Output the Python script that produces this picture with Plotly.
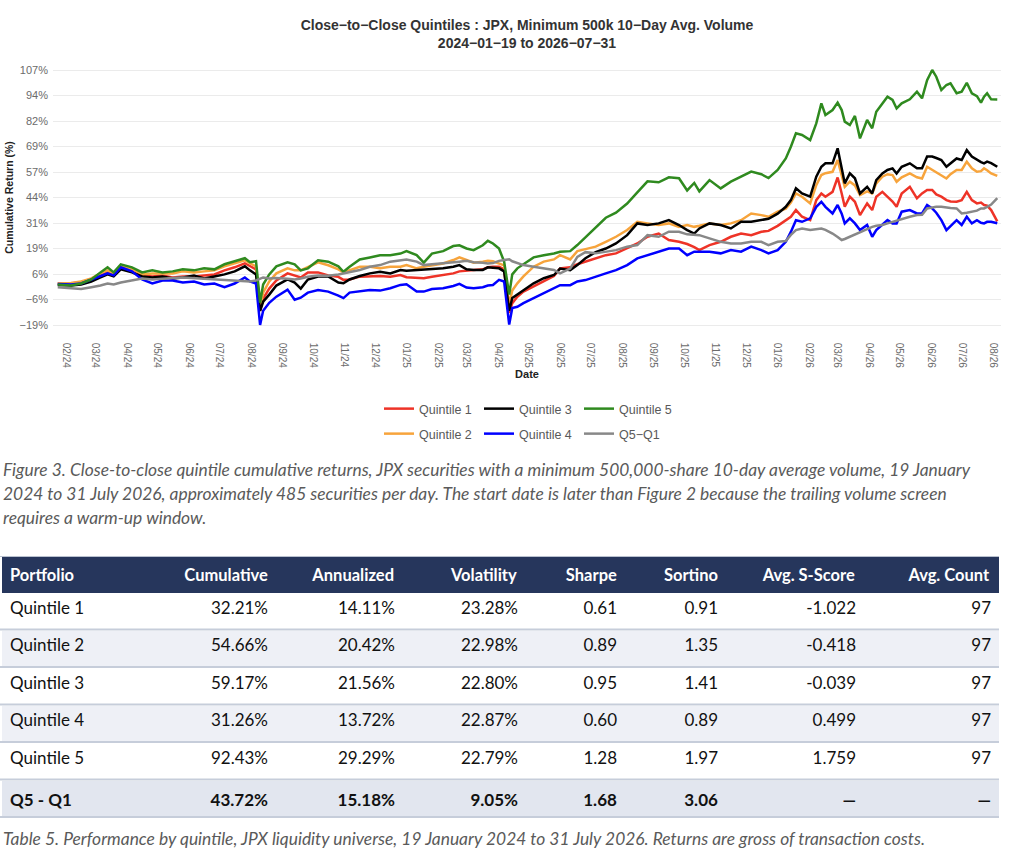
import plotly.graph_objects as go

# ---------------- DATA ----------------
DATES = [
    "2024-01-19", "2024-02-01", "2024-02-11", "2024-02-21", "2024-03-01", "2024-03-08", "2024-03-14", "2024-03-21", "2024-04-01", "2024-04-11",
    "2024-04-21", "2024-05-01", "2024-05-11", "2024-05-21", "2024-06-01", "2024-06-11", "2024-06-21", "2024-07-01", "2024-07-11", "2024-07-21",
    "2024-07-26", "2024-08-01", "2024-08-05", "2024-08-08", "2024-08-14", "2024-08-21", "2024-09-01", "2024-09-08", "2024-09-14", "2024-09-21",
    "2024-10-01", "2024-10-11", "2024-10-21", "2024-10-26", "2024-11-01", "2024-11-11", "2024-11-21", "2024-12-01", "2024-12-11", "2024-12-21",
    "2024-12-27", "2025-01-06", "2025-01-13", "2025-01-21", "2025-02-01", "2025-02-11", "2025-02-17", "2025-02-24", "2025-03-03", "2025-03-12",
    "2025-03-17", "2025-03-22", "2025-03-28", "2025-04-02", "2025-04-07", "2025-04-10", "2025-04-15", "2025-04-21", "2025-05-01", "2025-05-11",
    "2025-05-21", "2025-05-27", "2025-06-06", "2025-06-13", "2025-06-21", "2025-07-01", "2025-07-11", "2025-07-21", "2025-08-01", "2025-08-11",
    "2025-08-21", "2025-09-01", "2025-09-11", "2025-09-21", "2025-09-29", "2025-10-06", "2025-10-11", "2025-10-21", "2025-11-01", "2025-11-11",
    "2025-11-21", "2025-12-01", "2025-12-11", "2025-12-18", "2025-12-27", "2026-01-04", "2026-01-09", "2026-01-14", "2026-01-20", "2026-01-28",
    "2026-02-03", "2026-02-08", "2026-02-12", "2026-02-19", "2026-02-24", "2026-02-28", "2026-03-03", "2026-03-08", "2026-03-13", "2026-03-18",
    "2026-03-25", "2026-03-30", "2026-04-03", "2026-04-09", "2026-04-14", "2026-04-19", "2026-04-23", "2026-04-28", "2026-05-06", "2026-05-13",
    "2026-05-18", "2026-05-23", "2026-05-28", "2026-06-01", "2026-06-06", "2026-06-11", "2026-06-15", "2026-06-21", "2026-06-26", "2026-07-01",
    "2026-07-06", "2026-07-11", "2026-07-15", "2026-07-18", "2026-07-21", "2026-07-25", "2026-07-31",
]

QUINTILE_1 = [
    1.5, 1.5, 2.2, 3.5, 5.5, 7.0, 5.5, 9.5, 7.5, 5.5,
    5.0, 5.5, 4.5, 5.0, 5.0, 5.5, 6.0, 8.0, 9.5, 11.5,
    10.0, 8.5, -12.0, -6.0, -1.0, 3.0, 6.5, 5.5, 4.5, 7.0,
    7.0, 5.5, 4.8, 3.3, 3.5, 4.9, 5.2, 5.2, 4.9, 5.7,
    4.6, 4.1, 4.1, 4.8, 5.5, 6.5, 7.5, 8.0, 8.2, 8.5,
    9.5, 9.8, 9.8, 8.5, -13.0, -8.2, -5.0, -2.5, 0.0, 2.4,
    5.2, 8.9, 9.5, 11.0, 12.2, 13.9, 15.5, 16.4, 18.8, 21.3,
    24.6, 26.2, 23.0, 22.1, 21.0, 19.5, 18.0, 20.5, 22.1, 24.6,
    26.2, 25.4, 27.1, 27.5, 30.0, 32.5, 34.5, 37.8, 34.5, 32.8,
    42.7, 46.0, 44.4, 46.8, 53.9, 46.0, 39.4, 44.4, 41.9, 35.3,
    41.1, 37.8, 44.4, 46.8, 44.4, 42.0, 39.4, 46.0, 49.3, 43.6,
    46.0, 47.7, 47.7, 45.5, 44.4, 42.7, 42.0, 41.9, 42.7, 46.8,
    42.7, 41.1, 41.5, 40.3, 40.0, 37.8, 32.21,
]

QUINTILE_2 = [
    1.5, 1.8, 2.5, 4.0, 6.5, 8.0, 6.5, 10.0, 8.5, 6.0,
    6.5, 6.5, 6.5, 7.5, 7.0, 7.5, 8.0, 10.0, 11.5, 13.0,
    11.5, 10.0, -10.0, -3.0, 2.5, 6.5, 9.0, 8.0, 8.0, 9.5,
    12.0, 10.5, 8.5, 7.0, 8.0, 9.8, 9.8, 9.0, 9.8, 9.8,
    10.6, 9.0, 9.8, 10.5, 11.4, 13.1, 14.4, 13.1, 11.8, 12.3,
    12.7, 12.5, 11.4, 10.5, -9.0, -2.0, 1.6, 5.0, 9.8, 12.3,
    13.4, 15.5, 13.4, 17.5, 18.5, 19.7, 22.1, 24.6, 27.9, 32.0,
    31.2, 30.4, 31.2, 29.5, 30.4, 29.5, 30.0, 31.2, 30.4, 31.2,
    32.8, 36.1, 35.3, 34.5, 37.0, 38.5, 41.5, 46.0, 44.4, 41.1,
    50.1, 55.1, 56.0, 56.7, 62.5, 55.1, 49.3, 51.8, 50.0, 45.2,
    47.0, 46.0, 51.0, 54.3, 55.5, 55.1, 51.8, 54.0, 55.9, 54.0,
    53.4, 59.2, 57.6, 56.5, 55.1, 53.4, 55.5, 57.6, 57.6, 61.7,
    58.4, 56.7, 57.0, 58.4, 57.5, 55.9, 54.66,
]

QUINTILE_3 = [
    0.8, 0.5, 1.0, 2.5, 4.5, 6.0, 5.0, 8.5, 7.0, 5.0,
    4.5, 5.0, 4.0, 4.5, 5.5, 4.0, 5.0, 6.0, 7.5, 10.0,
    8.0, 6.0, -12.0, -7.5, -4.0, 0.5, 3.5, 2.0, -1.0, 3.5,
    5.0, 5.0, 2.0, 1.6, 3.5, 5.2, 6.5, 7.3, 6.5, 8.2,
    7.8, 8.2, 8.5, 8.8, 9.0, 9.8, 10.6, 8.5, 8.2, 8.2,
    9.5, 9.3, 9.0, 7.5, -12.0, -5.7, -4.0, -1.7, 1.6, 4.1,
    5.7, 8.9, 8.1, 10.6, 14.0, 17.0, 18.8, 21.3, 25.4, 31.2,
    30.4, 31.2, 32.8, 30.4, 27.9, 26.2, 28.7, 31.2, 30.4, 28.7,
    32.0, 32.0, 32.8, 33.5, 36.0, 39.4, 42.7, 48.5, 46.0, 44.4,
    54.3, 59.2, 60.9, 60.9, 68.3, 59.2, 51.0, 55.9, 53.5, 46.0,
    49.3, 46.0, 52.6, 55.9, 57.6, 58.4, 55.9, 59.2, 60.9, 58.4,
    58.4, 64.2, 64.2, 63.5, 62.5, 59.2, 61.0, 63.3, 62.5, 67.4,
    64.2, 62.5, 61.5, 60.9, 61.7, 61.0, 59.17,
]

QUINTILE_4 = [
    1.2, 1.0, 1.5, 3.5, 5.0, 6.5, 5.5, 9.5, 7.5, 3.5,
    1.5, 3.0, 3.0, 2.0, 2.5, 1.0, 1.5, -0.3, 1.5, 4.5,
    2.5, 1.5, -19.0, -12.0, -8.0, -5.0, -1.5, -6.5, -5.5, -3.0,
    -1.7, -2.5, -4.5, -5.7, -3.0, -2.5, -1.7, -2.0, -0.8, 0.8,
    1.1, -2.5, -2.5, -1.2, -0.8, 0.3, 1.3, -0.5, -0.8, -0.3,
    0.5, 0.8, 3.3, 2.5, -18.8, -10.6, -10.0, -8.2, -5.7, -3.3,
    -0.8, 0.7, 0.7, 2.5, 3.2, 5.0, 6.5, 8.1, 10.6, 13.9,
    15.5, 17.2, 18.8, 18.8, 15.5, 17.2, 17.2, 17.2, 16.4, 18.0,
    17.2, 19.7, 18.0, 16.4, 18.0, 22.1, 27.0, 32.8, 32.0, 33.7,
    39.4, 41.9, 39.4, 36.1, 40.3, 36.0, 31.2, 33.7, 31.2, 27.9,
    30.4, 24.6, 27.9, 30.4, 32.8, 31.2, 31.2, 37.0, 37.8, 36.1,
    36.1, 40.3, 38.6, 36.5, 32.8, 27.9, 30.0, 32.8, 30.4, 34.5,
    31.2, 32.8, 31.5, 31.2, 32.0, 32.0, 31.26,
]

QUINTILE_5 = [
    1.0, 0.5, 1.5, 3.5, 7.0, 9.5, 7.0, 11.0, 9.5, 7.0,
    8.0, 7.0, 7.5, 8.5, 8.0, 9.0, 8.5, 11.0, 12.5, 14.0,
    12.0, 12.5, -8.0, 1.0, 6.0, 10.0, 12.0, 11.0, 8.0, 9.0,
    13.0, 12.3, 10.0, 7.3, 9.8, 13.4, 14.4, 15.5, 15.5, 16.3,
    17.5, 15.5, 11.8, 16.3, 17.5, 20.0, 20.4, 18.8, 18.0, 20.4,
    22.6, 21.3, 18.8, 12.3, -4.0, 6.0, 9.0, 11.0, 14.4, 15.5,
    16.3, 17.2, 17.5, 20.5, 24.5, 29.5, 34.0, 36.5, 41.0, 46.5,
    52.0, 51.5, 54.0, 53.5, 47.5, 51.2, 47.0, 52.6, 48.5, 51.8,
    54.5, 56.8, 55.5, 53.6, 57.6, 63.3, 69.1, 75.7, 74.9, 72.4,
    80.6, 90.5, 84.8, 87.2, 90.9, 87.2, 81.5, 79.8, 84.3, 73.2,
    82.3, 78.2, 86.4, 90.5, 93.8, 92.2, 88.0, 90.5, 92.5, 96.3,
    93.0, 102.0, 107.0, 103.7, 97.1, 99.6, 100.4, 95.5, 96.3, 100.7,
    95.5, 94.1, 90.9, 93.8, 95.5, 92.5, 92.43,
]

Q5_MINUS_Q1 = [
    -0.3, -1.0, -1.2, -0.3, 0.5, 1.5, 1.0, 2.0, 3.0, 4.0,
    3.5, 4.0, 4.2, 4.5, 4.2, 4.0, 3.8, 3.5, 3.2, 3.0,
    2.5, 3.0, 4.0, 4.5, 4.0, 4.2, 3.8, 3.5, 4.0, 4.8,
    5.5, 5.3, 6.0, 6.5, 7.3, 8.2, 9.8, 10.6, 12.3, 13.1,
    13.4, 12.3, 10.6, 11.0, 11.4, 11.8, 12.3, 12.7, 12.0, 11.8,
    11.4, 11.6, 12.7, 13.1, 13.5, 12.5, 11.5, 10.6, 9.8, 9.0,
    8.2, 6.5, 8.9, 14.7, 17.0, 16.4, 17.2, 18.0, 19.7, 20.5,
    25.4, 24.6, 27.1, 27.1, 25.8, 25.4, 25.4, 23.8, 22.1, 21.3,
    21.3, 22.1, 22.1, 20.5, 22.1, 22.5, 25.5, 27.9, 28.7, 27.9,
    28.3, 28.7, 28.0, 26.2, 24.5, 23.0, 23.5, 24.6, 26.0, 27.1,
    28.5, 29.5, 30.0, 30.4, 31.2, 32.0, 32.8, 33.5, 34.5, 35.3,
    35.5, 38.6, 39.0, 39.4, 39.4, 39.0, 38.8, 38.6, 36.1, 36.5,
    37.0, 37.5, 38.6, 38.6, 39.4, 40.5, 43.72,
]

SERIES_NAMES = ["Quintile 1", "Quintile 2", "Quintile 3", "Quintile 4", "Quintile 5", "Q5\u2212Q1"]

Y_TICK_VALUES = [-19, -6.4, 6.2, 18.8, 31.4, 44, 56.6, 69.2, 81.8, 94.4, 107]
Y_TICK_LABELS = ["\u221219%", "\u22126%", "6%", "19%", "31%", "44%", "57%", "69%", "82%", "94%", "107%"]

TABLE_HEADERS = ["Portfolio", "Cumulative", "Annualized", "Volatility", "Sharpe", "Sortino", "Avg. S-Score", "Avg. Count"]
PORTFOLIO = ["Quintile 1", "Quintile 2", "Quintile 3", "Quintile 4", "Quintile 5", "Q5 - Q1"]
CUMULATIVE = ["32.21%", "54.66%", "59.17%", "31.26%", "92.43%", "43.72%"]
ANNUALIZED = ["14.11%", "20.42%", "21.56%", "13.72%", "29.29%", "15.18%"]
VOLATILITY = ["23.28%", "22.98%", "22.80%", "22.87%", "22.79%", "9.05%"]
SHARPE = ["0.61", "0.89", "0.95", "0.60", "1.28", "1.68"]
SORTINO = ["0.91", "1.35", "1.41", "0.89", "1.97", "3.06"]
AVG_S_SCORE = ["-1.022", "-0.418", "-0.039", "0.499", "1.759", "\u2014"]
AVG_COUNT = ["97", "97", "97", "97", "97", "\u2014"]

TITLE = "Close\u2212to\u2212Close Quintiles : JPX, Minimum 500k 10\u2212Day Avg. Volume<br>2024\u221201\u221219 to 2026\u221207\u221231"
FIG_CAPTION = [
    "Figure 3. Close-to-close quintile cumulative returns, JPX securities with a minimum 500,000-share 10-day average volume, 19 January",
    "2024 to 31 July 2026, approximately 485 securities per day. The start date is later than Figure 2 because the trailing volume screen",
    "requires a warm-up window.",
]
TABLE_CAPTION = "Table 5. Performance by quintile, JPX liquidity universe, 19 January 2024 to 31 July 2026. Returns are gross of transaction costs."

# ---------------- STYLE / LAYOUT ----------------
W, H = 1030, 865
COLORS = ["#ee3327", "#f7a43c", "#000000", "#0000ff", "#2f8a1f", "#888888"]
LEGEND_ID = ["legend", "legend2", "legend", "legend2", "legend", "legend2"]
CHART_FONT = "Liberation Sans, Arial, sans-serif"
DOC_FONT = "Lato, Open Sans, sans-serif"


def py(px):
    """pixel row from top -> paper fraction"""
    return 1 - px / H


def px_(px):
    return px / W


series = [QUINTILE_1, QUINTILE_2, QUINTILE_3, QUINTILE_4, QUINTILE_5, Q5_MINUS_Q1]

fig = go.Figure()
for name, vals, color, lg in zip(SERIES_NAMES, series, COLORS, LEGEND_ID):
    fig.add_trace(go.Scatter(
        x=DATES, y=vals, mode="lines", name=name,
        line=dict(color=color, width=2.5),
        legend=lg, xaxis="x", yaxis="y",
    ))

# ---- table ----
TABLE_TOP, HEADER_H, ROW_H = 557, 35, 37.5
TABLE_LEFT, TABLE_RIGHT = 2, 999
n_rows = len(PORTFOLIO)
table_bottom = TABLE_TOP + HEADER_H + ROW_H * n_rows
row_fills = ["#ffffff", "#eef0f6", "#ffffff", "#eef0f6", "#ffffff", "#e2e6ef"]
columns = [PORTFOLIO, CUMULATIVE, ANNUALIZED, VOLATILITY, SHARPE, SORTINO, AVG_S_SCORE, AVG_COUNT]
cell_values = [[("<b>%s</b>" % v) if i == n_rows - 1 else v for i, v in enumerate(col)] for col in columns]
fill_grid = [row_fills for _ in columns]

fig.add_trace(go.Table(
    domain=dict(x=[px_(TABLE_LEFT), px_(TABLE_RIGHT)], y=[py(table_bottom), py(TABLE_TOP)]),
    columnwidth=[148, 126, 127, 123, 99, 101, 138, 135],
    header=dict(
        values=["<b>%s</b>" % h for h in TABLE_HEADERS],
        fill_color="#26365c",
        line=dict(color="#26365c", width=0),
        font=dict(family=DOC_FONT, size=16.5, color="white"),
        align=["left"] + ["right"] * 7,
        height=HEADER_H,
    ),
    cells=dict(
        values=cell_values,
        fill_color=fill_grid,
        line=dict(color=fill_grid, width=0),
        font=dict(family=DOC_FONT, size=17, color="#111111"),
        align=["left"] + ["right"] * 7,
        height=ROW_H,
    ),
))

shapes = [dict(type="line", xref="paper", yref="paper", x0=px_(0), x1=px_(TABLE_RIGHT),
               y0=py(TABLE_TOP - 0.5), y1=py(TABLE_TOP - 0.5), line=dict(color="#b9c1cf", width=1))]
for k in range(1, n_rows + 1):
    yy = TABLE_TOP + HEADER_H + ROW_H * k
    shapes.append(dict(type="line", xref="paper", yref="paper", x0=px_(0), x1=px_(TABLE_RIGHT),
                       y0=py(yy), y1=py(yy), line=dict(color="#c6cdda", width=2)))

CAPTION_FONT = dict(family=DOC_FONT, size=17.4, color="#5a5a5a", style="italic")
annotations = []
for i, line in enumerate(FIG_CAPTION):
    annotations.append(dict(
        text=line, xref="paper", yref="paper", x=px_(1), y=py(470 + i * 23.5),
        xanchor="left", yanchor="middle", showarrow=False, font=CAPTION_FONT,
    ))
annotations.append(dict(
    text=TABLE_CAPTION, xref="paper", yref="paper", x=px_(1), y=py(838),
    xanchor="left", yanchor="middle", showarrow=False, font=CAPTION_FONT,
))

PLOT_L, PLOT_R, PLOT_T, PLOT_B = 53, 1001, 57.25, 337.75

legend_common = dict(
    orientation="h", xanchor="left", yanchor="top", x=px_(379),
    font=dict(family=CHART_FONT, size=12.5, color="#595959"),
    bgcolor="rgba(0,0,0,0)", borderwidth=0, entrywidth=55, itemwidth=30,
)

fig.update_layout(
    width=W, height=H,
    margin=dict(l=0, r=0, t=0, b=0),
    paper_bgcolor="white", plot_bgcolor="white",
    font=dict(family=CHART_FONT, color="#333333"),
    title=dict(
        text="<b>%s</b>" % TITLE, xref="container", x=px_(527), xanchor="center",
        yref="container", y=py(30), yanchor="middle",
        font=dict(family=CHART_FONT, size=14, color="#333333"),
    ),
    xaxis=dict(
        domain=[px_(PLOT_L), px_(PLOT_R)],
        type="date",
        range=["2024-01-14 08:00", "2026-08-03 16:00"],
        tick0="2024-02-01", dtick="M1", tickformat="%m/%y",
        tickangle=90, ticks="", showgrid=False, zeroline=False, showline=False,
        tickfont=dict(family=CHART_FONT, size=10, color="#6b6b6b"),
        ticklabelstandoff=4, ticklabelshift=-5,
        title=dict(text="<b>Date</b>", font=dict(family=CHART_FONT, size=11, color="#222222"), standoff=2),
        automargin=False,
    ),
    yaxis=dict(
        domain=[py(PLOT_B), py(PLOT_T)],
        range=[-25.3, 113.3],
        tickvals=Y_TICK_VALUES, ticktext=Y_TICK_LABELS,
        ticks="", showgrid=True, gridcolor="#ebebeb", gridwidth=1.2,
        zeroline=False, showline=False,
        tickfont=dict(family=CHART_FONT, size=11, color="#6b6b6b"),
        ticklabelstandoff=4,
        title=dict(text="<b>Cumulative Return (%)</b>", font=dict(family=CHART_FONT, size=10.5, color="#222222"), standoff=3),
        automargin=False,
    ),
    legend=dict(legend_common, y=py(394)),
    legend2=dict(legend_common, y=py(419)),
    shapes=shapes,
    annotations=annotations,
    showlegend=True,
)

fig.write_html("out.html", config={"displayModeBar": False},
               post_script="document.body.style.margin='0px';")
